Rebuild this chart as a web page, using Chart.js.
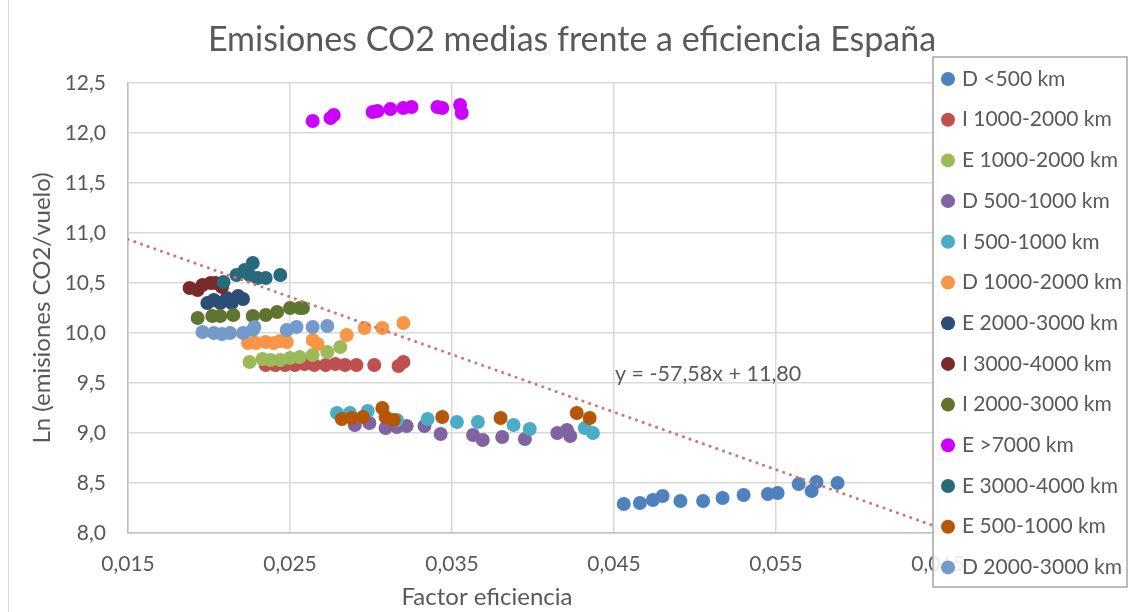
<!DOCTYPE html>
<html lang="es">
<head>
<meta charset="utf-8">
<title>Emisiones CO2 medias frente a eficiencia España</title>
<script src="https://cdn.jsdelivr.net/npm/chart.js@4.4.1/dist/chart.umd.min.js"></script>
<style>
  html, body { margin: 0; padding: 0; background: #ffffff; }
  #wrap { width: 1129px; height: 612px; }
</style>
</head>
<body>
<div id="wrap"><canvas id="co2Chart" width="1129" height="612"></canvas></div>
<script>
// Axis ticks
const xTickValues = [0.015, 0.025, 0.035, 0.045, 0.055, 0.065];
const yTickValues = [8.0, 8.5, 9.0, 9.5, 10.0, 10.5, 11.0, 11.5, 12.0, 12.5];

// Series, one x/y pair per route group
const dMenos500X = [0.0456, 0.0466, 0.0474, 0.0480, 0.0491, 0.0505, 0.0517, 0.0530, 0.0545, 0.0551, 0.0564, 0.0572, 0.0575, 0.0588];
const dMenos500Y = [8.29, 8.30, 8.33, 8.37, 8.32, 8.32, 8.35, 8.38, 8.39, 8.40, 8.49, 8.42, 8.51, 8.50];

const i1000X = [0.0235, 0.0241, 0.0247, 0.0253, 0.0259, 0.0265, 0.0272, 0.0278, 0.0284, 0.0291, 0.0302, 0.0317, 0.0320];
const i1000Y = [9.68, 9.68, 9.68, 9.68, 9.69, 9.68, 9.68, 9.69, 9.68, 9.68, 9.68, 9.67, 9.71];

const e1000X = [0.0225, 0.0233, 0.0238, 0.0244, 0.0250, 0.0256, 0.0264, 0.0273, 0.0281];
const e1000Y = [9.71, 9.74, 9.73, 9.73, 9.75, 9.76, 9.78, 9.81, 9.86];

const d500X = [0.0290, 0.0299, 0.0309, 0.0316, 0.0322, 0.0333, 0.0343, 0.0363, 0.0369, 0.0381, 0.0395, 0.0415, 0.0421, 0.0423];
const d500Y = [9.08, 9.10, 9.05, 9.06, 9.07, 9.07, 8.99, 8.98, 8.93, 8.96, 8.94, 9.00, 9.03, 8.97];

const i500X = [0.0279, 0.0287, 0.0298, 0.0316, 0.0335, 0.0353, 0.0366, 0.0388, 0.0398, 0.0432, 0.0437];
const i500Y = [9.20, 9.20, 9.22, 9.13, 9.14, 9.11, 9.11, 9.08, 9.04, 9.05, 9.00];

const d1000X = [0.0224, 0.0229, 0.0235, 0.0240, 0.0244, 0.0248, 0.0264, 0.0267, 0.0285, 0.0296, 0.0307, 0.0320];
const d1000Y = [9.90, 9.90, 9.91, 9.90, 9.92, 9.91, 9.93, 9.89, 9.98, 10.05, 10.05, 10.10];

const e2000X = [0.0199, 0.0203, 0.0207, 0.0211, 0.0214, 0.0218, 0.0221];
const e2000Y = [10.30, 10.33, 10.30, 10.35, 10.30, 10.37, 10.34];

const i3000X = [0.0188, 0.0193, 0.0196, 0.0201, 0.0204, 0.0208];
const i3000Y = [10.45, 10.43, 10.48, 10.50, 10.50, 10.46];

const i2000X = [0.0193, 0.0202, 0.0207, 0.0215, 0.0227, 0.0235, 0.0242, 0.0250, 0.0256, 0.0258];
const i2000Y = [10.15, 10.17, 10.17, 10.18, 10.17, 10.18, 10.21, 10.25, 10.25, 10.25];

const e7000X = [0.0264, 0.0275, 0.0277, 0.0301, 0.0304, 0.0312, 0.0320, 0.0325, 0.0341, 0.0344, 0.0355, 0.0356];
const e7000Y = [12.12, 12.15, 12.18, 12.21, 12.22, 12.24, 12.25, 12.26, 12.26, 12.25, 12.28, 12.20];

const e3000X = [0.0209, 0.0217, 0.0222, 0.0227, 0.0225, 0.0230, 0.0235, 0.0244];
const e3000Y = [10.51, 10.58, 10.63, 10.70, 10.58, 10.55, 10.55, 10.58];

const e500X = [0.0282, 0.0288, 0.0295, 0.0307, 0.0309, 0.0314, 0.0344, 0.0380, 0.0427, 0.0435];
const e500Y = [9.14, 9.15, 9.16, 9.25, 9.16, 9.13, 9.16, 9.15, 9.20, 9.15];

const d2000X = [0.0196, 0.0203, 0.0208, 0.0213, 0.0221, 0.0227, 0.0228, 0.0248, 0.0254, 0.0264, 0.0273];
const d2000Y = [10.01, 10.00, 9.99, 10.00, 10.00, 10.03, 10.06, 10.03, 10.06, 10.06, 10.07];

const seriesLabels = [
  "D <500 km", "I 1000-2000 km", "E 1000-2000 km", "D 500-1000 km", "I 500-1000 km",
  "D 1000-2000 km", "E 2000-3000 km", "I 3000-4000 km", "I 2000-3000 km", "E >7000 km",
  "E 3000-4000 km", "E 500-1000 km", "D 2000-3000 km"
];
const seriesX = [dMenos500X, i1000X, e1000X, d500X, i500X, d1000X, e2000X, i3000X, i2000X, e7000X, e3000X, e500X, d2000X];
const seriesY = [dMenos500Y, i1000Y, e1000Y, d500Y, i500Y, d1000Y, e2000Y, i3000Y, i2000Y, e7000Y, e3000Y, e500Y, d2000Y];

// Linear trend over all points
const TREND_SLOPE = -57.58;
const TREND_INTERCEPT = 11.80;
const trendX = [0.015, 0.065];

const COLORS = [
  "#4F81BD", "#C0504D", "#9BBB59", "#8064A2", "#4BACC6", "#F79646", "#2C4D75",
  "#772C2A", "#5F7530", "#CC00FF", "#276A7C", "#B65708", "#729ACA"
];
const TEXT = "#595959";
const GRID = "#D9D9D9";
const FONT = "Lato";
const TITLE = "Emisiones CO2 medias frente a eficiencia España";

const commaNum = (v, d) => v.toFixed(d).replace(".", ",");

const datasets = seriesLabels.map((label, i) => ({
  label,
  data: seriesX[i].map((x, k) => ({ x, y: seriesY[i][k] })),
  backgroundColor: COLORS[i],
  borderColor: COLORS[i],
  pointRadius: 7,
  pointHoverRadius: 7,
  pointBorderWidth: 0,
  // later series sit on top of earlier ones
  order: seriesLabels.length - i
}));

datasets.push({
  label: "Lineal",
  type: "line",
  data: trendX.map((x) => ({ x, y: TREND_SLOPE * x + TREND_INTERCEPT })),
  borderColor: "#D27673",
  borderWidth: 3,
  borderDash: [0.1, 7],
  borderCapStyle: "round",
  pointRadius: 0,
  fill: false,
  order: -1
});

const equationText = "y = " + commaNum(TREND_SLOPE, 2) + "x + " + commaNum(TREND_INTERCEPT, 2);
const equationAt = { x: 0.04506, y: 9.59 };

// Title, equation label, x-axis title, legend box and frame
const chartDecor = {
  id: "chartDecor",
  afterDatasetsDraw(chart) {
    const { ctx, scales } = chart;
    ctx.save();
    ctx.font = `21.5px ${FONT}`;
    ctx.fillStyle = TEXT;
    ctx.textAlign = "left";
    ctx.textBaseline = "middle";
    ctx.fillText(equationText, scales.x.getPixelForValue(equationAt.x), scales.y.getPixelForValue(equationAt.y));
    ctx.restore();
  },
  afterDraw(chart) {
    const { ctx } = chart;
    ctx.save();
    ctx.fillStyle = TEXT;
    ctx.textAlign = "center";
    ctx.textBaseline = "middle";

    ctx.font = `34px ${FONT}`;
    ctx.fillText(TITLE, 572, 40);

    ctx.font = `24px ${FONT}`;
    ctx.fillText("Factor eficiencia", 487, 597);

    // legend
    const box = { left: 933, top: 57, right: 1127, bottom: 587 };
    ctx.fillStyle = "rgba(255, 255, 255, 0.88)";
    ctx.fillRect(box.left, box.top, box.right - box.left, box.bottom - box.top);
    ctx.strokeStyle = "#A6A6A6";
    ctx.lineWidth = 1.5;
    ctx.strokeRect(box.left, box.top, box.right - box.left, box.bottom - box.top);

    ctx.font = `21px ${FONT}`;
    ctx.textAlign = "left";
    seriesLabels.forEach((label, i) => {
      const y = 79 + i * 40.7;
      ctx.fillStyle = COLORS[i];
      ctx.beginPath();
      ctx.arc(948, y, 7, 0, Math.PI * 2);
      ctx.fill();
      ctx.fillStyle = TEXT;
      ctx.fillText(label, 962, y);
    });

    ctx.strokeStyle = GRID;
    ctx.lineWidth = 1;
    ctx.beginPath();
    ctx.moveTo(8.5, 0);
    ctx.lineTo(8.5, 612);
    ctx.stroke();
    ctx.restore();
  }
};

new Chart(document.getElementById("co2Chart"), {
  type: "scatter",
  data: { datasets },
  plugins: [chartDecor],
  options: {
    responsive: false,
    animation: false,
    layout: { padding: { left: 0, right: 191, top: 83, bottom: 0 } },
    plugins: {
      legend: { display: false },
      tooltip: { enabled: false },
      title: { display: false }
    },
    scales: {
      x: {
        type: "linear",
        min: 0.015,
        max: 0.065,
        afterBuildTicks(scale) {
          scale.ticks = xTickValues.map((value) => ({ value }));
        },
        afterFit(scale) {
          scale.height = 79;
        },
        grid: { color: GRID, lineWidth: 1.5, drawTicks: false },
        border: { color: "#BFBFBF", width: 1.5 },
        ticks: {
          color: TEXT,
          padding: 19,
          maxRotation: 0,
          font: { family: FONT, size: 21 },
          callback: (v) => commaNum(v, 3)
        }
      },
      y: {
        min: 8,
        max: 12.5,
        afterBuildTicks(scale) {
          scale.ticks = yTickValues.map((value) => ({ value }));
        },
        afterFit(scale) {
          scale.width = 128;
        },
        grid: { color: GRID, lineWidth: 1.5, drawTicks: false },
        border: { color: "#BFBFBF", width: 1.5 },
        ticks: {
          color: TEXT,
          padding: 22,
          font: { family: FONT, size: 21 },
          callback: (v) => commaNum(v, 1)
        },
        title: {
          display: true,
          text: "Ln (emisiones CO2/vuelo)",
          color: TEXT,
          font: { family: FONT, size: 24 },
          padding: { top: 28, bottom: 0 }
        }
      }
    }
  }
});
</script>
</body>
</html>
